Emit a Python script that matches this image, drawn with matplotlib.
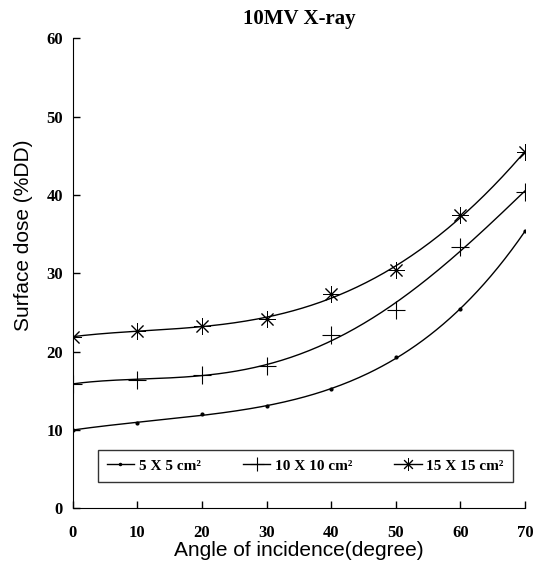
import numpy as np
import matplotlib
matplotlib.use("Agg")
import matplotlib.pyplot as plt  # noqa: E402

# Angle of incidence (degree)
angles = [0, 10, 20, 30, 40, 50, 60, 70]

# Surface dose (%DD)
dose_5x5 = [10.0, 10.9, 12.0, 13.0, 15.2, 19.3, 25.4, 35.4]
dose_10x10 = [15.9, 16.4, 17.0, 18.1, 22.1, 25.3, 33.4, 40.4]
dose_15x15 = [21.9, 22.6, 23.2, 24.2, 27.3, 30.4, 37.4, 45.5]

labels = ["5 X 5 cm\u00b2", "10 X 10 cm\u00b2", "15 X 15 cm\u00b2"]
x_ticks = [0, 10, 20, 30, 40, 50, 60, 70]
y_ticks = [0, 10, 20, 30, 40, 50, 60]

SERIF = ["Liberation Serif", "DejaVu Serif"]
SANS = ["Liberation Sans", "DejaVu Sans"]


def smooth(x, y):
    # fitted smooth curve like the original plot, not through every marker
    coef = np.polyfit(x, y, 4)
    xs = np.linspace(min(x), max(x), 200)
    return xs, np.polyval(coef, xs)


def main():
    fig = plt.figure(figsize=(5.47, 5.61), dpi=100)
    ax = fig.add_axes([0.133, 0.094, 0.827, 0.838])

    styles = [
        dict(marker=".", ms=4),
        dict(marker="+", ms=13, mew=0.8),
        dict(marker=(8, 2, 0), ms=12, mew=0.7),
    ]
    series = [dose_5x5, dose_10x10, dose_15x15]
    for vals, lab, st in zip(series, labels, styles):
        xs, ys = smooth(angles, vals)
        ax.plot(xs, ys, color="black", lw=1.0)
        ax.plot(angles, vals, ls="none", color="black", **st)
        # legend proxy: line with marker
        ax.plot([], [], color="black", lw=1.0, label=lab, **st)

    ax.set_xlim(0, 70)
    ax.set_ylim(0, 60)
    ax.set_xticks(x_ticks)
    ax.set_yticks(y_ticks)
    ax.spines["top"].set_visible(False)
    ax.spines["right"].set_visible(False)
    ax.tick_params(direction="in", length=5, width=1.0)
    ax.tick_params(axis="x", pad=12)
    ax.tick_params(axis="y", pad=7)
    for t in ax.get_xticklabels() + ax.get_yticklabels():
        t.set_fontfamily(SERIF)
        t.set_fontweight("bold")
        t.set_fontsize(12)

    ax.set_xlabel("Angle of incidence(degree)", fontfamily=SANS, fontsize=15,
                  labelpad=0)
    ax.set_ylabel("Surface dose (%DD)", fontfamily=SANS, fontsize=15)
    ax.yaxis.set_label_coords(-0.088, 0.58)
    ax.set_title("10MV X-ray", fontfamily=SERIF, fontweight="bold",
                 fontsize=15, pad=10)

    leg = ax.legend(loc="lower left", bbox_to_anchor=(0.038, 0.04, 0.952, 0.09),
                    mode="expand", ncol=3, frameon=True, fancybox=False,
                    borderpad=0.6, handlelength=1.8, handletextpad=0.3,
                    columnspacing=0.6, markerscale=0.75,
                    prop={"family": SERIF, "weight": "bold", "size": 11})
    leg.get_frame().set_edgecolor("black")
    leg.get_frame().set_linewidth(1.0)

    plt.savefig("out.png", dpi=100)


if __name__ == "__main__":
    main()
